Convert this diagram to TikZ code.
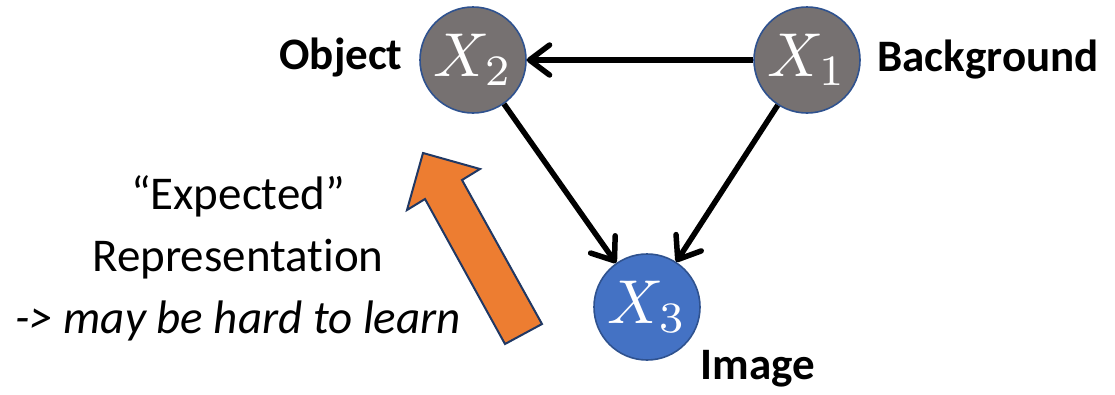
\documentclass[tikz,border=0pt]{standalone}
\usepackage{fontspec}
\setmainfont{Carlito}[Ligatures=NoCommon]
\usetikzlibrary{arrows.meta}
\definecolor{nodegray}{HTML}{767171}
\definecolor{nodeblue}{HTML}{4472C4}
\definecolor{rimblue}{HTML}{2F528F}
\definecolor{arrorange}{HTML}{ED7D31}
\definecolor{arrrim}{HTML}{203864}
\newcommand{\bigvar}[1]{\scalebox{6.2}{$#1$}}
\tikzset{
  var/.style={circle, minimum size=106pt, inner sep=0pt, draw=rimblue, line width=1.6pt, text=white},
  lbl/.style={font=\fontsize{45}{45}\selectfont\bfseries, inner sep=0pt},
  edge/.style={line width=5.5pt, -{Straight Barb[length=20pt,width=30pt,line cap=round,line join=round]}},
}
\begin{document}
\begin{tikzpicture}[x=1pt,y=-1pt]
\useasboundingbox (0,0) rectangle (1115,394);
\node[var, fill=nodegray] (x2) at (473,60) {\bigvar{X_2}};
\node[var, fill=nodegray] (x1) at (807,60) {\bigvar{X_1}};
\node[var, fill=nodeblue] (x3) at (647,307) {\bigvar{X_3}};
\node[lbl] (lobj) at (341,58) {Object};
\node[lbl] (lbg) at (988,60) {Background};
\node[lbl] (limg) at (758,369) {Image};
\draw[edge] (x1) -- (x2);
\draw[edge] (x2) -- (x3);
\draw[edge] (x1) -- (x3);
\node[align=center, inner sep=0pt, font=\fontsize{47}{62}\selectfont] (txt) at (238,258)
  {“Expected”\\Representation\\\itshape -> may be hard to learn};
\path[fill=arrorange, draw=arrrim, line width=2pt, line join=miter]
  (505,344) -- (542,324) -- (462,180) -- (480,169) -- (423,153) -- (407,210) -- (425,199) -- cycle;
\end{tikzpicture}
\end{document}
